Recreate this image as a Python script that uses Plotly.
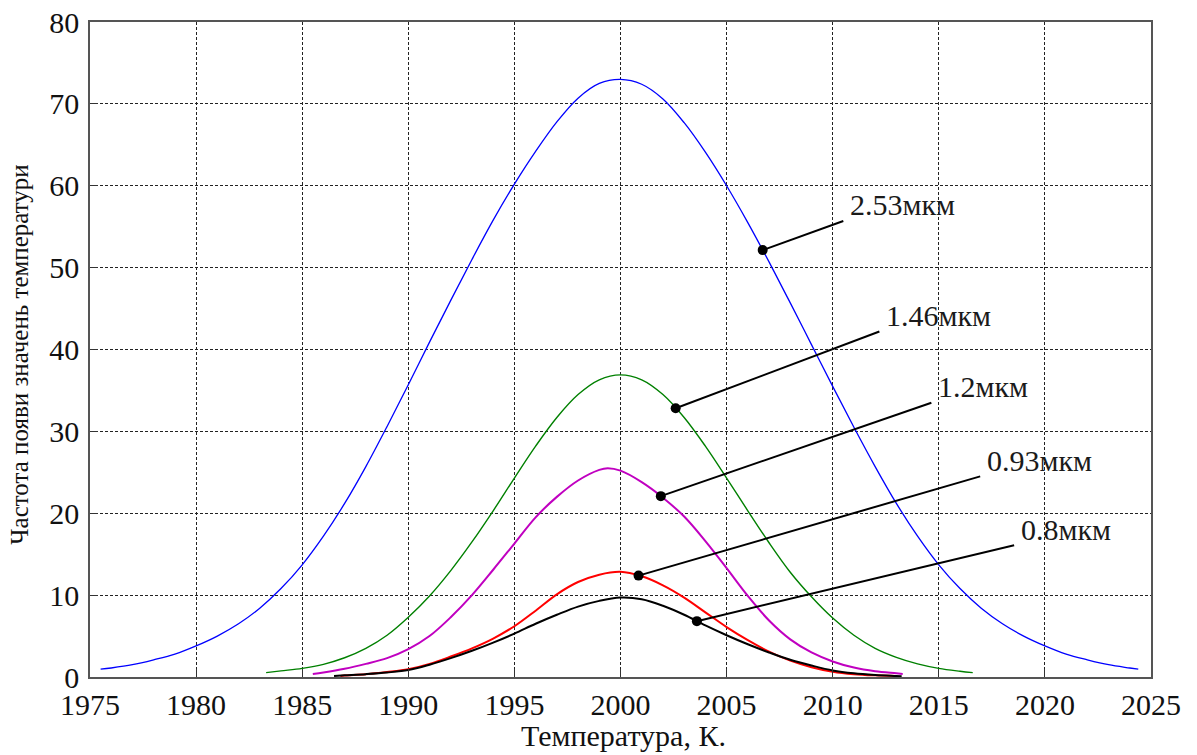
import numpy as np
import plotly.graph_objects as go

# Temperature distribution curves for several wavelengths
years_253 = [1975.5, 1976, 1977, 1978, 1979, 1980, 1981, 1982, 1983, 1984, 1985, 1986, 1987,
             1988, 1989, 1990, 1991, 1992, 1993, 1994, 1995, 1996, 1997, 1998, 1999, 2000,
             2001, 2002, 2003, 2004, 2005, 2006, 2007, 2008, 2009, 2010, 2011, 2012, 2013,
             2014, 2015, 2016, 2017, 2018, 2019, 2020, 2021, 2022, 2023, 2024, 2024.4]
freq_253 = [0.95, 1.1, 1.5, 2.1, 2.8, 3.8, 5.0, 6.5, 8.4, 10.8, 13.7, 17.2, 21.2,
            25.7, 30.6, 35.7, 40.9, 46.0, 51.0, 55.8, 60.2, 64.2, 67.8, 70.7, 72.5, 73.0,
            72.4, 70.6, 67.7, 64.1, 60.0, 55.5, 50.7, 45.7, 40.6, 35.5, 30.5, 25.7, 21.2,
            17.2, 13.7, 10.8, 8.4, 6.5, 5.0, 3.8, 2.8, 2.1, 1.5, 1.1, 0.95]

years_146 = [1983.3, 1984, 1985, 1986, 1987, 1988, 1989, 1990, 1991, 1992, 1993, 1994, 1995,
             1996, 1997, 1998, 1999, 2000, 2001, 2002, 2003, 2004, 2005, 2006, 2007, 2008,
             2009, 2010, 2011, 2012, 2013, 2014, 2015, 2016, 2016.6]
freq_146 = [0.53, 0.75, 1.06, 1.55, 2.35, 3.5, 5.1, 7.3, 9.9, 13.0, 16.5, 20.3, 24.3,
            28.2, 31.7, 34.5, 36.3, 36.9, 36.3, 34.5, 31.7, 28.2, 24.3, 20.3, 16.4, 12.8,
            9.8, 7.2, 5.1, 3.5, 2.4, 1.6, 1.05, 0.7, 0.53]

years_12 = [1985.5, 1986, 1987, 1988, 1989, 1990, 1991, 1992, 1993, 1994, 1995, 1996, 1997,
            1998, 1999, 1999.4, 2000, 2001, 2002, 2003, 2004, 2005, 2006, 2007, 2008, 2009,
            2010, 2011, 2012, 2013, 2013.3]
freq_12 = [0.37, 0.55, 1.0, 1.6, 2.3, 3.4, 5.0, 7.3, 10.0, 13.1, 16.3, 19.5, 22.0,
           24.0, 25.3, 25.5, 25.2, 23.8, 21.9, 19.6, 16.6, 13.3, 9.9, 6.9, 4.6, 3.0,
           1.9, 1.15, 0.7, 0.45, 0.37]

years_093 = [1986.8, 1987, 1988, 1989, 1990, 1991, 1992, 1993, 1994, 1995, 1996, 1997, 1998,
             1999, 2000, 2001, 2002, 2003, 2004, 2005, 2006, 2007, 2008, 2009, 2010, 2011,
             2012, 2013]
freq_093 = [0.12, 0.18, 0.33, 0.6, 0.95, 1.6, 2.5, 3.5, 4.7, 6.2, 8.1, 10.1, 11.6,
            12.5, 12.85, 12.3, 11.2, 9.7, 7.9, 6.1, 4.5, 3.1, 2.0, 1.2, 0.65, 0.35,
            0.2, 0.12]

years_08 = [1986.5, 1987, 1988, 1989, 1990, 1991, 1992, 1993, 1994, 1995, 1996, 1997, 1998,
            1999, 2000, 2001, 2002, 2003, 2004, 2005, 2006, 2007, 2008, 2009, 2010, 2011,
            2012, 2013, 2013.25]
freq_08 = [0.12, 0.2, 0.35, 0.55, 0.85, 1.5, 2.3, 3.2, 4.2, 5.3, 6.5, 7.6, 8.6,
           9.3, 9.7, 9.5, 8.7, 7.6, 6.3, 5.1, 4.0, 3.0, 2.1, 1.4, 0.8, 0.45,
           0.25, 0.13, 0.1]

labels = ["2.53мкм", "1.46мкм", "1.2мкм", "0.93мкм", "0.8мкм"]
colors = ["#0000ff", "#008000", "#c000c0", "#ff0000", "#000000"]
widths = [1.3, 1.4, 2.0, 2.0, 2.0]
curves = [(years_253, freq_253), (years_146, freq_146), (years_12, freq_12),
          (years_093, freq_093), (years_08, freq_08)]

# callout: point on the curve (x) and the end of the leader line where the label sits
callout_x = [2006.7, 2002.6, 2001.9, 2000.85, 2003.6]
leader_end_x = [2010.5, 2012.2, 2014.65, 2016.95, 2018.55]
leader_end_y = [55.7, 42.2, 33.5, 24.5, 16.1]

FONT = "Liberation Serif, Times New Roman, serif"

fig = go.Figure()

for (xs, ys), c, w in zip(curves, colors, widths):
    fig.add_trace(go.Scatter(x=xs, y=ys, mode="lines",
                             line=dict(color=c, width=w, shape="spline", smoothing=1.0),
                             hoverinfo="skip", showlegend=False))

annotations = []
for (xs, ys), cx, ex, ey, lab in zip(curves, callout_x, leader_end_x, leader_end_y, labels):
    cy = float(np.interp(cx, xs, ys))
    fig.add_trace(go.Scatter(x=[cx, ex], y=[cy, ey], mode="lines",
                             line=dict(color="#000000", width=2),
                             hoverinfo="skip", showlegend=False))
    fig.add_trace(go.Scatter(x=[cx], y=[cy], mode="markers",
                             marker=dict(color="#000000", size=10),
                             hoverinfo="skip", showlegend=False))
    annotations.append(dict(x=ex, y=ey, xref="x", yref="y", text=lab, showarrow=False,
                            xanchor="left", yanchor="middle", xshift=5, yshift=16,
                            font=dict(family=FONT, size=30, color="#1a1a1a")))

# axis titles
annotations.append(dict(x=0.503, y=-0.09, xref="paper", yref="paper", showarrow=False,
                        text="Температура, К.", xanchor="center", yanchor="middle",
                        font=dict(family=FONT, size=30, color="#111111")))
annotations.append(dict(x=-0.066, y=0.492, xref="paper", yref="paper", showarrow=False,
                        text="Частота появи значень температури", textangle=-90,
                        xanchor="center", yanchor="middle",
                        font=dict(family=FONT, size=25, color="#111111")))

axis_common = dict(showgrid=True, gridcolor="#222222", gridwidth=1, griddash="3px,2px",
                   showline=True, linecolor="#555555", linewidth=1.5, mirror=True,
                   zeroline=False, ticks="inside", ticklen=8, tickcolor="#333333",
                   automargin=False,
                   tickfont=dict(family=FONT, size=30, color="#111111"))

fig.update_xaxes(range=[1975, 2025], tickvals=list(range(1975, 2026, 5)),
                 ticklabelstandoff=0, **axis_common)
fig.update_yaxes(range=[0, 80], tickvals=list(range(0, 81, 10)),
                 ticklabelstandoff=3, **axis_common)

fig.update_layout(width=1197, height=755, margin=dict(l=90, r=46, t=22, b=78),
                  paper_bgcolor="white", plot_bgcolor="white", annotations=annotations)

fig.write_html("out.html")
